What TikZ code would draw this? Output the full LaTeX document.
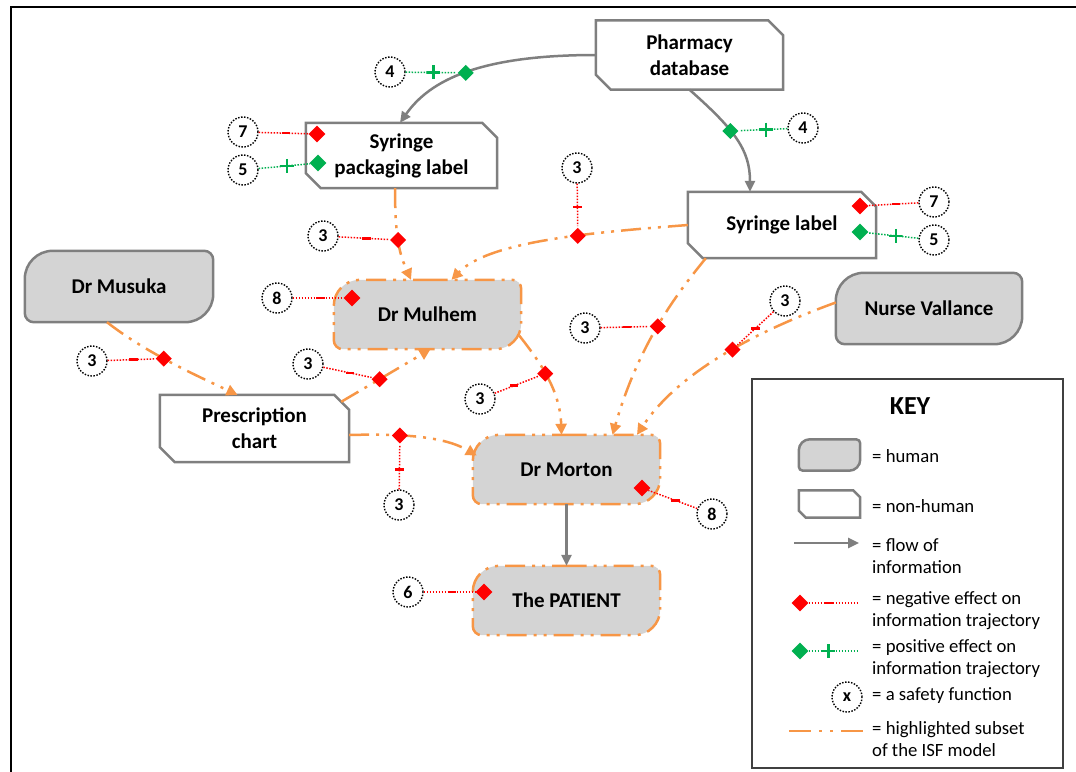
\documentclass[tikz,border=0pt]{standalone}
\usepackage{fontspec}
\setmainfont{Carlito}
\usetikzlibrary{arrows.meta,shapes.geometric,backgrounds,calc}

\definecolor{hfill}{HTML}{D4D4D4}
\definecolor{edgegray}{HTML}{7F7F7F}
\definecolor{hlorange}{HTML}{F79646}
\definecolor{posgreen}{HTML}{00B050}
\definecolor{keyframe}{HTML}{404040}

\tikzset{
  agent/.style={rectangle, minimum width=187, minimum height=69, inner sep=0,
    align=center, font=\fontsize{21}{26}\selectfont\bfseries},
  hl/.style={draw=hlorange, line width=2.5,
    dash pattern=on 20pt off 7pt on 3pt off 7pt on 3pt off 7pt},
  hlarrow/.style={hl, -{Triangle[length=11pt,width=11pt]}},
  flow/.style={draw=edgegray, line width=2.5, -{Triangle[length=11pt,width=10pt]}},
  sf/.style={circle, draw=black, line width=1.4, dash pattern=on 1.5pt off 1.5pt,
    minimum size=30, inner sep=0, fill=white, font=\fontsize{18}{18}\selectfont\bfseries},
  negdia/.style={diamond, fill=red, minimum width=17, minimum height=17, inner sep=0},
  posdia/.style={diamond, fill=posgreen, minimum width=17, minimum height=17, inner sep=0},
  negline/.style={draw=red, line width=1.5, dash pattern=on 1.5pt off 1.5pt},
  posline/.style={draw=posgreen, line width=1.5, dash pattern=on 1.5pt off 1.5pt},
  negmark/.style={fill=red, minimum width=8.5, minimum height=2.6, inner sep=0},
  posmark/.style={minimum size=14, inner sep=0,
    path picture={\draw[posgreen, line width=2.2, solid]
      (path picture bounding box.north) -- (path picture bounding box.south)
      (path picture bounding box.west) -- (path picture bounding box.east);}},
  keytext/.style={anchor=west, align=left, inner sep=0,
    font=\fontsize{18.7}{22}\selectfont},
  humanedge/.style={draw=edgegray, line width=2.5, fill=hfill},
  thingedge/.style={draw=edgegray, line width=2.5, fill=white},
}

% outline of a person: big rounding top-left and bottom-right
\newcommand\humanoutline[4]{%
  \path[#2] (#1.north) [rounded corners=#4] -| (#1.east)
    [rounded corners=#3] |- (#1.south)
    [rounded corners=#4] -| (#1.west)
    [rounded corners=#3] |- (#1.north);}
% outline of an artefact: chamfered top-right and bottom-left
\newcommand\thingoutline[3]{%
  \path[#2] (#1.north west) -- ([xshift=-#3]#1.north east)
    -- ([yshift=-#3]#1.north east) -- (#1.south east)
    -- ([xshift=#3]#1.south west) -- ([yshift=#3]#1.south west) -- cycle;}

\begin{document}
\begin{tikzpicture}[x=1pt,y=-1pt]
\useasboundingbox (0,0) rectangle (1076,771);

% frame
\draw[line width=2.5, line cap=rect] (11,771) -- (11,7) -- (1076,7);

% artefacts
\node[agent] (pharm) at (689.5,55) {Pharmacy\\database};
\node[agent, minimum width=191, minimum height=65] (pack) at (401.5,155.5) {Syringe\\packaging label};
\node[agent, minimum width=188, minimum height=66] (syr) at (782,225) {Syringe label};
\node[agent, minimum width=189, minimum height=67] (presc) at (254.5,428.5) {Prescription\\chart};

% people
\node[agent, minimum width=188, minimum height=71] (musuka) at (119,286.5) {Dr Musuka};
\node[agent] (mulhem) at (427.5,314.5) {Dr Mulhem};
\node[agent, minimum width=186, minimum height=71] (nurse) at (929,308.5) {Nurse Vallance};
\node[agent] (morton) at (566.5,469.5) {Dr Morton};
\node[agent] (patient) at (566.5,600.5) {The PATIENT};

% key
\node[draw=keyframe, line width=2, minimum width=311, minimum height=389, inner sep=0] (key) at (907.5,573.5) {};
\node[font=\fontsize{26}{26}\selectfont\bfseries] (keytitle) at (910,406) {KEY};
\node[minimum width=61, minimum height=31, inner sep=0] (khuman) at (829.5,455) {};
\node[minimum width=61, minimum height=27, inner sep=0] (kthing) at (829.5,504) {};

\begin{pgfonlayer}{background}
  \thingoutline{pharm}{thingedge}{15pt}
  \thingoutline{pack}{thingedge}{15pt}
  \thingoutline{syr}{thingedge}{15pt}
  \thingoutline{presc}{thingedge}{15pt}
  \humanoutline{musuka}{humanedge}{28pt}{9pt}
  \humanoutline{nurse}{humanedge}{28pt}{9pt}
  \humanoutline{mulhem}{hl, fill=hfill}{26pt}{9pt}
  \humanoutline{morton}{hl, fill=hfill}{26pt}{9pt}
  \humanoutline{patient}{hl, fill=hfill}{26pt}{9pt}
  \humanoutline{khuman}{humanedge}{11pt}{4pt}
  \thingoutline{kthing}{thingedge}{7pt}
\end{pgfonlayer}

% flow of information
\draw[flow] (pharm.west) .. controls (480,55) and (430,80) .. ([xshift=-1.5pt]pack.north)
  node[posdia, pos=.5] (g1) {};
\draw[flow] (pharm.south) .. controls (735,130) and (750,150) .. ([xshift=-32pt]syr.north)
  node[posdia, pos=.4] (g2) {};
\draw[flow] (morton) -- (patient);

% highlighted subset
\draw[hlarrow] ([xshift=-6.5pt]pack.south) .. controls (395,240) and (400,255) .. ([xshift=-16.5pt]mulhem.north)
  node[negdia, pos=.45] (d1) {};
\draw[hlarrow] (syr.west) .. controls (600,232) and (490,240) .. ([xshift=24pt]mulhem.north)
  node[negdia, pos=.4] (d2) {};
\draw[hlarrow] ([xshift=-12pt]musuka.south) .. controls (145,352) and (195,375) .. ([xshift=-17pt]presc.north)
  node[negdia, pos=.45] (d3) {};
\draw[hlarrow] ([xshift=-8pt,yshift=-7pt]presc.north east) -- ([xshift=3pt]mulhem.south)
  node[negdia, pos=.43] (d4) {};
\draw[hlarrow] ([xshift=-2pt,yshift=-21pt]mulhem.east) .. controls (540,362) and (560,390) .. ([xshift=-5pt]morton.north)
  node[negdia, pos=.45] (d5) {};
\draw[hlarrow] ([yshift=-6.5pt]presc.east) .. controls (420,433) and (450,440) .. ([xshift=4pt,yshift=14pt]morton.west)
  node[negdia, pos=.28] (d6) {};
\draw[hlarrow] ([xshift=18pt]syr.south west) .. controls (680,290) and (640,340) .. ([xshift=46pt]morton.north)
  node[negdia, pos=.52] (d7) {};
\draw[hlarrow] ([yshift=6pt]nurse.west) .. controls (760,330) and (680,370) .. ([xshift=70.5pt]morton.north)
  node[negdia, pos=.46] (d8) {};

% effects attached to agents
\node[negdia] (d9) at (317,134) {};
\node[posdia] (g3) at (318,163) {};
\node[negdia] (d10) at (860,206) {};
\node[posdia] (g4) at (860,232) {};
\node[negdia] (d11) at (352,298) {};
\node[negdia] (d12) at (642,488) {};
\node[negdia] (d13) at (484,592) {};

% safety functions
\node[sf] (s1) at (390,72) {4};
\node[sf] (s2) at (243,132) {7};
\node[sf] (s3) at (243,170) {5};
\node[sf] (s4) at (803,128) {4};
\node[sf] (s5) at (577,168) {3};
\node[sf] (s6) at (323,236) {3};
\node[sf] (s7) at (934,202) {7};
\node[sf] (s8) at (934,240) {5};
\node[sf] (s9) at (277,298) {8};
\node[sf] (s10) at (92,361) {3};
\node[sf] (s11) at (308,364) {3};
\node[sf] (s12) at (585,328) {3};
\node[sf] (s13) at (785,301) {3};
\node[sf] (s14) at (480,399) {3};
\node[sf] (s15) at (399,505) {3};
\node[sf] (s16) at (712,514) {8};
\node[sf] (s17) at (408,592) {6};

\draw[posline] (s1) -- (g1) node[posmark, pos=.55] {};
\draw[negline] (s2) -- (d9) node[negmark, pos=.55] {};
\draw[posline] (s3) -- (g3) node[posmark, pos=.55] {};
\draw[posline] (s4) -- (g2) node[posmark, pos=.45] {};
\draw[negline] (s5) -- (d2) node[negmark, pos=.55] {};
\draw[negline] (s6) -- (d1) node[negmark, pos=.55] {};
\draw[negline] (s7) -- (d10) node[negmark, pos=.45] {};
\draw[posline] (s8) -- (g4) node[posmark, pos=.45] {};
\draw[negline] (s9) -- (d11) node[negmark, pos=.55] {};
\draw[negline] (s10) -- (d3) node[negmark, pos=.55] {};
\draw[negline] (s11) -- (d4) node[negmark, pos=.55] {};
\draw[negline] (s12) -- (d7) node[negmark, pos=.55] {};
\draw[negline] (s13) -- (d8) node[negmark, pos=.5] {};
\draw[negline] (s14) -- (d5) node[negmark, pos=.45] {};
\draw[negline] (s15) -- (d6) node[negmark, pos=.45] {};
\draw[negline] (s16) -- (d12) node[negmark, pos=.45] {};
\draw[negline] (s17) -- (d13) node[negmark, pos=.55] {};

% key entries
\coordinate (kf1) at (794,543);
\coordinate (kf2) at (859,543);
\draw[flow] (kf1) -- (kf2);
\node[negdia] (kd) at (800,603) {};
\coordinate (kn) at (858,603);
\draw[negline] (kd) -- (kn) node[negmark, pos=.42] {};
\node[posdia] (kg) at (800,651) {};
\coordinate (kp) at (858,651);
\draw[posline] (kg) -- (kp) node[posmark, pos=.4] {};
\node[sf] (ksf) at (847,697) {x};
\coordinate (kh1) at (789,731);
\coordinate (kh2) at (863,731);
\draw[hl, dash pattern=on 22pt off 8pt on 3pt off 8pt on 3pt off 8pt] (kh1) -- (kh2);

\node[keytext] (kt1) at (872,456) {= human};
\node[keytext] (kt2) at (872,506) {= non-human};
\node[keytext] (kt3) at (872,556) {= flow of\\information};
\node[keytext] (kt4) at (872,611) {= negative effect on\\information trajectory};
\node[keytext] (kt5) at (872,659) {= positive effect on\\information trajectory};
\node[keytext] (kt6) at (872,696) {= a safety function};
\node[keytext] (kt7) at (872,739) {= highlighted subset\\of the ISF model};
\end{tikzpicture}
\end{document}
